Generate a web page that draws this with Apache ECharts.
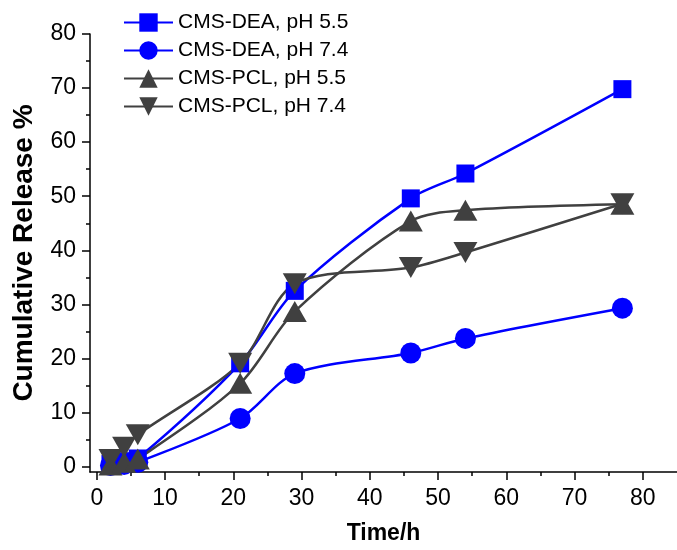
<!DOCTYPE html>
<html>
<head>
<meta charset="utf-8">
<title>Cumulative Release</title>
<script src="https://cdn.jsdelivr.net/npm/echarts@6/dist/echarts.min.js"></script>
<style>
  html, body { margin: 0; padding: 0; background: #fff; }
  #chart { width: 677px; height: 550px; }
</style>
</head>
<body>
<div id="chart"></div>
<script>
// Sampling times (h)
const times = [2, 4, 6, 21, 29, 46, 54, 77];

// Cumulative release (%) for each formulation / pH
const deaPH55 = [0.5, 1.0, 1.5, 19.1, 32.5, 49.6, 54.2, 69.8];
const deaPH74 = [0.2, 0.4, 0.8, 8.9, 17.2, 21.0, 23.7, 29.3];
const pclPH55 = [0.3, 0.8, 1.4, 15.4, 28.7, 45.4, 47.4, 48.5];
const pclPH74 = [1.3, 3.6, 5.9, 19.1, 33.8, 36.8, 39.6, 48.6];

const seriesNames = ['CMS-DEA, pH 5.5', 'CMS-DEA, pH 7.4', 'CMS-PCL, pH 5.5', 'CMS-PCL, pH 7.4'];

// Axis ticks
const xMajorTicks = [0, 10, 20, 30, 40, 50, 60, 70, 80];
const xMinorTicks = [5, 15, 25, 35, 45, 55, 65, 75];
const yMajorTicks = [0, 10, 20, 30, 40, 50, 60, 70, 80];
const yMinorTicks = [5, 15, 25, 35, 45, 55, 65, 75];

const FONT = '"Liberation Sans", Arial, sans-serif';
const BLUE = '#0000ff';
const GRAY = '#404040';

const pairs = vals => times.map((t, i) => [t, vals[i]]);

function lineSeries(name, vals, color, symbol, size, rotate) {
  return {
    name: name,
    type: 'line',
    data: pairs(vals),
    smooth: 0.3,
    symbol: symbol,
    symbolSize: size,
    symbolRotate: rotate || 0,
    showAllSymbol: true,
    lineStyle: { color: color, width: 2.5 },
    itemStyle: { color: color, borderWidth: 0 },
    emphasis: { disabled: true },
    z: 3
  };
}

const axisLineStyle = { color: '#000', width: 1.5 };

const chart = echarts.init(document.getElementById('chart'), null, { renderer: 'canvas' });

chart.setOption({
  animation: false,
  backgroundColor: '#fff',
  textStyle: { fontFamily: FONT },
  grid: { left: 90, right: -6, top: 34, bottom: 78, containLabel: false },
  legend: {
    orient: 'vertical',
    left: 123,
    top: 12,
    padding: 0,
    itemWidth: 49,
    itemHeight: 23,
    itemGap: 7,
    data: seriesNames,
    textStyle: { fontSize: 21, color: '#000', fontFamily: FONT },
    selectedMode: false
  },
  xAxis: [
    {
      type: 'value',
      min: -1,
      max: 85,
      name: 'Time/h',
      nameLocation: 'middle',
      nameGap: 50,
      nameTextStyle: { fontSize: 23, fontWeight: 'bold', color: '#000', fontFamily: FONT },
      axisLine: { show: true, onZero: false, lineStyle: axisLineStyle },
      axisTick: { show: true, inside: false, length: 8, lineStyle: axisLineStyle, customValues: xMajorTicks },
      axisLabel: { fontSize: 23, color: '#000', margin: 15, fontFamily: FONT, customValues: xMajorTicks },
      splitLine: { show: false }
    },
    {
      type: 'value',
      min: -1,
      max: 85,
      position: 'bottom',
      axisLine: { show: false, onZero: false },
      axisTick: { show: true, inside: false, length: 4, lineStyle: axisLineStyle, customValues: xMinorTicks },
      axisLabel: { show: false },
      splitLine: { show: false }
    }
  ],
  yAxis: [
    {
      type: 'value',
      min: -1,
      max: 80,
      name: 'Cumulative Release %',
      nameLocation: 'middle',
      nameGap: 52,
      nameTextStyle: { fontSize: 28, fontWeight: 'bold', color: '#000', fontFamily: FONT },
      axisLine: { show: true, onZero: false, lineStyle: axisLineStyle },
      axisTick: { show: true, inside: false, length: 8, lineStyle: axisLineStyle, customValues: yMajorTicks },
      axisLabel: { fontSize: 23, color: '#000', margin: 14, fontFamily: FONT, customValues: yMajorTicks },
      splitLine: { show: false }
    },
    {
      type: 'value',
      min: -1,
      max: 80,
      position: 'left',
      axisLine: { show: false, onZero: false },
      axisTick: { show: true, inside: false, length: 4, lineStyle: axisLineStyle, customValues: yMinorTicks },
      axisLabel: { show: false },
      splitLine: { show: false }
    }
  ],
  series: [
    lineSeries(seriesNames[0], deaPH55, BLUE, 'rect', 18),
    lineSeries(seriesNames[1], deaPH74, BLUE, 'circle', 21),
    lineSeries(seriesNames[2], pclPH55, GRAY, 'triangle', [24, 21]),
    lineSeries(seriesNames[3], pclPH74, GRAY, 'triangle', [24, 21], 180)
  ]
});
</script>
</body>
</html>
